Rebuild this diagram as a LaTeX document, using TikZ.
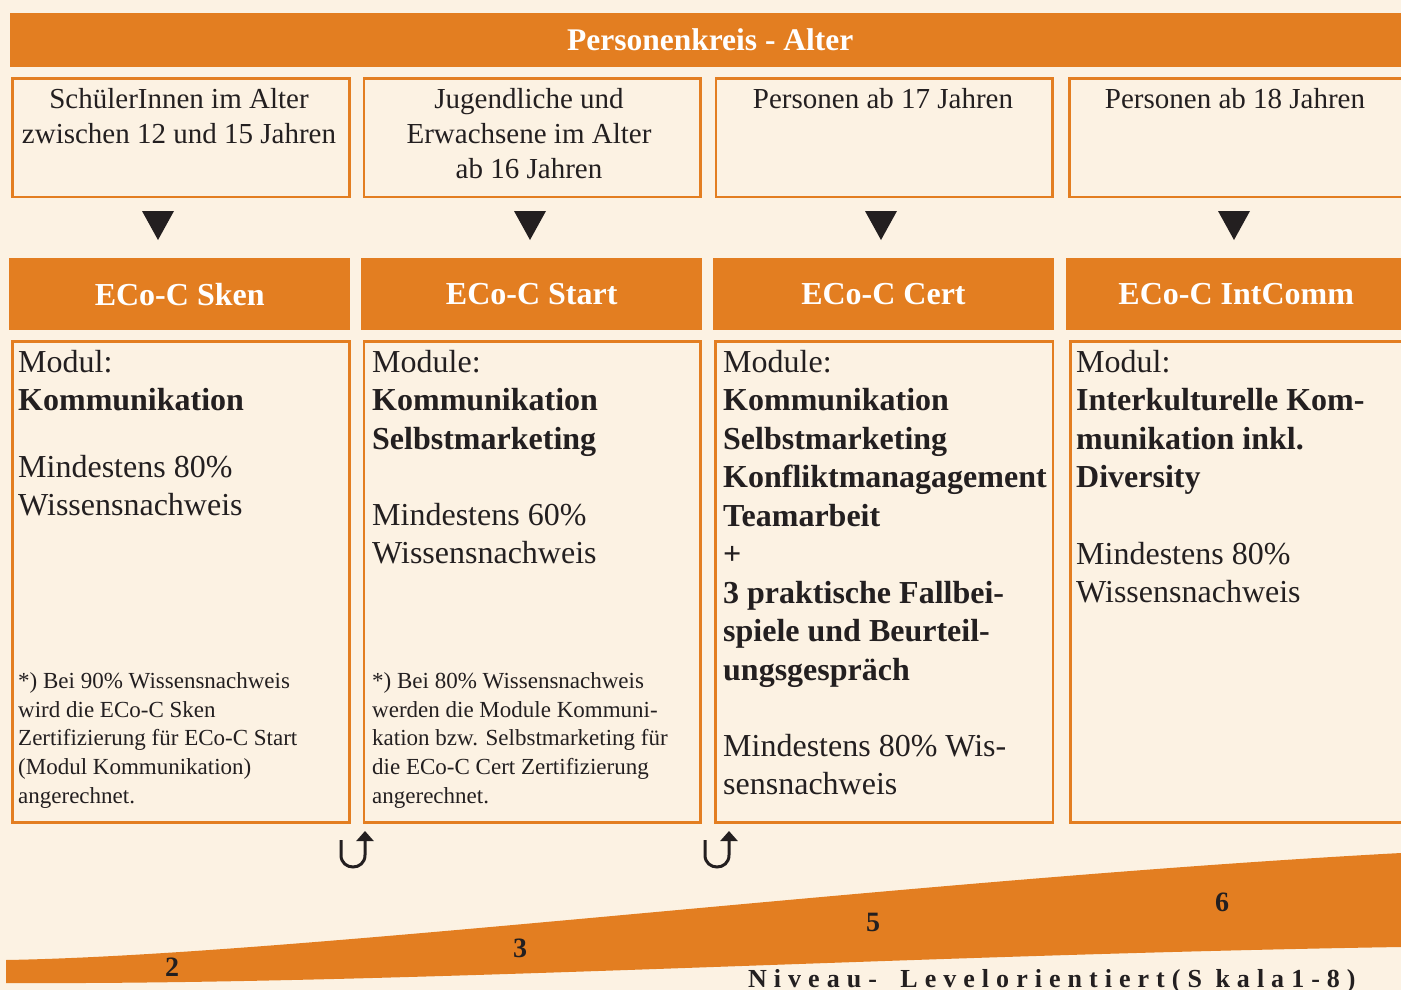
\documentclass[tikz,border=0pt]{standalone}
\usepackage{fontspec}
\setmainfont{Liberation Serif}
\usetikzlibrary{arrows.meta}
\definecolor{eorange}{RGB}{227,126,33}
\definecolor{cream}{RGB}{252,242,227}
\definecolor{ink}{RGB}{35,31,32}
\begin{document}
\begin{tikzpicture}[x=1pt,y=-1pt,
  bar/.style={fill=eorange,draw=none,inner sep=0pt,anchor=north west,text=white},
  hdr/.style={bar,minimum height=72pt,font=\fontsize{32}{38}\selectfont\bfseries},
  frame/.style={draw=eorange,line width=2.5pt,fill=cream,inner sep=0pt,anchor=north west},
  agebox/.style={frame,minimum height=118.5pt},
  contbox/.style={frame,minimum height=481pt},
  agetxt/.style={inner sep=0pt,anchor=north,align=center,text=ink,font=\fontsize{29}{35}\selectfont},
  bodytxt/.style={inner sep=0pt,anchor=north west,align=left,text=ink,font=\fontsize{32}{38.5}\selectfont},
  foottxt/.style={inner sep=0pt,anchor=north west,align=left,text=ink,font=\fontsize{23}{28.8}\selectfont},
  tri/.style={fill=ink,draw=none},
  uarrow/.style={draw=ink,line width=3pt,-{Triangle[width=17pt,length=10pt]}},
  num/.style={inner sep=0pt,text=ink,font=\fontsize{28}{28}\selectfont\bfseries}
]
\useasboundingbox (0,0) rectangle (1401,990);
\fill[cream] (0,0) rectangle (1401,990);

% title bar
\node[bar,minimum width=1400pt,minimum height=54pt,font=\fontsize{31.5}{36}\selectfont\bfseries] (title) at (10,13) {Personenkreis - Alter};

% age boxes
\node[agebox,minimum width=337pt] (age1) at (11.25,77.25) {};
\node[agebox,minimum width=336.5pt] (age2) at (362.75,77.25) {};
\node[agebox,minimum width=336.5pt] (age3) at (714.75,77.25) {};
\node[agebox,minimum width=340pt] (age4) at (1068.25,77.25) {};

\node[agetxt] (agetext1) at (179,83) {\rule{0pt}{25pt}SchülerInnen im Alter\\zwischen 12 und 15 Jahren};
\node[agetxt] (agetext2) at (529,83) {\rule{0pt}{25pt}Jugendliche und\\Erwachsene im Alter\\ab 16 Jahren};
\node[agetxt] (agetext3) at (883,83) {\rule{0pt}{25pt}Personen ab 17 Jahren};
\node[agetxt] (agetext4) at (1235,83) {\rule{0pt}{25pt}Personen ab 18 Jahren};

% triangles
\fill[tri] (142,211) -- (174,211) -- (158,240) -- cycle;
\fill[tri] (514,211) -- (546,211) -- (530,240) -- cycle;
\fill[tri] (865,211) -- (897,211) -- (881,240) -- cycle;
\fill[tri] (1218,211) -- (1250,211) -- (1234,240) -- cycle;

% headers
\node[hdr,minimum width=341pt] (hdr1) at (9,258) {ECo-C Sken};
\node[hdr,minimum width=341pt] (hdr2) at (361,258) {ECo-C Start};
\node[hdr,minimum width=341.5pt] (hdr3) at (712.5,258) {ECo-C Cert};
\node[hdr,minimum width=340pt] (hdr4) at (1066,258) {ECo-C IntComm};

% content boxes
\node[contbox,minimum width=337pt] (cont1) at (11.25,340.25) {};
\node[contbox,minimum width=336.5pt] (cont2) at (362.75,340.25) {};
\node[contbox,minimum width=337.5pt] (cont3) at (714.25,340.25) {};
\node[contbox,minimum width=340pt] (cont4) at (1069.25,340.25) {};

% column 1
\node[bodytxt] (c1a) at (18,342) {\rule{0pt}{30pt}Modul:\\\textbf{Kommunikation}};
\node[bodytxt] (c1b) at (18,447) {\rule{0pt}{30pt}Mindestens 80\%\\Wissensnachweis};
\node[foottxt] (c1f) at (18,666) {\rule{0pt}{22pt}*) Bei 90\% Wissensnachweis\\wird die ECo-C Sken\\Zertifizierung für ECo-C Start\\(Modul Kommunikation)\\angerechnet.};

% column 2
\node[bodytxt] (c2a) at (372,342) {\rule{0pt}{30pt}Module:\\\textbf{Kommunikation}\\\textbf{Selbstmarketing}};
\node[bodytxt] (c2b) at (372,495) {\rule{0pt}{30pt}Mindestens 60\%\\Wissensnachweis};
\node[foottxt] (c2f) at (372,666) {\rule{0pt}{22pt}*) Bei 80\% Wissensnachweis\\werden die Module Kommuni-\\kation bzw. Selbstmarketing für\\die ECo-C Cert Zertifizierung\\angerechnet.};

% column 3
\node[bodytxt] (c3a) at (723,342) {\rule{0pt}{30pt}Module:\\\textbf{Kommunikation}\\\textbf{Selbstmarketing}\\\textbf{Konfliktmanagagement}\\\textbf{Teamarbeit}\\\textbf{+}\\\textbf{3 praktische Fallbei-}\\\textbf{spiele und Beurteil-}\\\textbf{ungsgespräch}};
\node[bodytxt] (c3b) at (723,726) {\rule{0pt}{30pt}Mindestens 80\% Wis-\\sensnachweis};

% column 4
\node[bodytxt] (c4a) at (1076,342) {\rule{0pt}{30pt}Modul:\\\textbf{Interkulturelle Kom-}\\\textbf{munikation inkl.}\\\textbf{Diversity}};
\node[bodytxt] (c4b) at (1076,534) {\rule{0pt}{30pt}Mindestens 80\%\\Wissensnachweis};

% U-turn arrows
\draw[uarrow] (341,840) -- (341,855) .. controls (341,871) and (365,871) .. (365,855) -- (365,831);
\draw[uarrow] (705,840) -- (705,855) .. controls (705,871) and (729,871) .. (729,855) -- (729,831);

% level band
\fill[eorange] (6,960) .. controls (300,955) and (900,880) .. (1401,853)
  -- (1401,947) .. controls (900,955) and (400,985) .. (6,983) -- cycle;
\node[num] (lv2) at (172,967) {2};
\node[num] (lv3) at (520,948) {3};
\node[num] (lv5) at (873,922) {5};
\node[num] (lv6) at (1222,902) {6};

\node[inner sep=0pt,anchor=base west,text=ink,font=\fontsize{26}{26}\selectfont\bfseries\addfontfeatures{LetterSpace=27}] (niveau) at (748,987) {Niveau-\hspace{10pt} Levelorientiert(S kala1-8)};
\end{tikzpicture}
\end{document}
